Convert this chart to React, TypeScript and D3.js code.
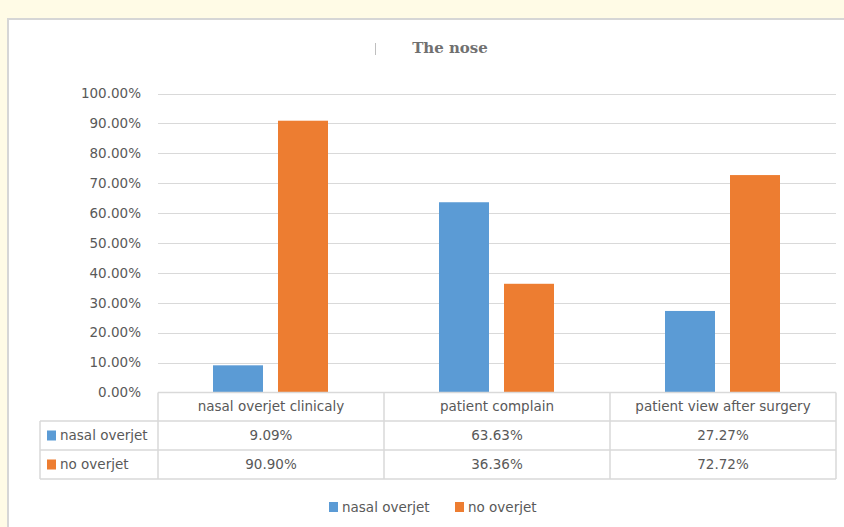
import * as d3 from 'd3'

const categories = ['nasal overjet clinicaly', 'patient complain', 'patient view after surgery']
const seriesNames = ['nasal overjet', 'no overjet']
const nasalOverjet = [0.0909, 0.6363, 0.2727]
const noOverjet = [0.909, 0.3636, 0.7272]
const seriesColors = ['#5b9bd5', '#ed7d31']
const yTicks = [0, 0.1, 0.2, 0.3, 0.4, 0.5, 0.6, 0.7, 0.8, 0.9, 1]

const W = 844
const H = 527
const font = "'DejaVu Sans', Verdana, sans-serif"
const textColor = '#595959'
const lineColor = '#d9d9d9'

const App = () => {
  const values = [nasalOverjet, noOverjet]

  const x0 = d3.scaleBand().domain(categories).range([158, 836])
  const x1 = d3.scaleBand().domain(seriesNames).range([-58, 57]).paddingInner(0.2308)
  const y = d3.scaleLinear().domain([0, 1]).range([392.5, 93.5])
  const fmt = d3.format('.2%')

  const tableTop = 392.5
  const rowH = [28.5, 29, 29]
  const rowY = [tableTop, tableTop + rowH[0], tableTop + rowH[0] + rowH[1]]
  const tableBottom = rowY[2] + rowH[2]
  const labelLeft = 40

  return (
    <svg width={W} height={H} style={{ position: 'absolute', left: 0, top: 0 }}>
      <rect x={0} y={0} width={W} height={H} fill="#fffbe6" />
      <rect x={8} y={19} width={W} height={H} fill="#fff" stroke="#d6d6d6" strokeWidth={2} />

      <line x1={375.5} x2={375.5} y1={43} y2={55} stroke="#bfbfbf" strokeWidth={1} />
      <text x={450} y={53} textAnchor="middle" fontFamily="'DejaVu Serif', Cambria, serif"
        fontWeight="bold" fontSize={15} fill="#707070">The nose</text>

      {/* grid + y labels */}
      {yTicks.map(t => (
        <g key={t}>
          {t > 0 && (
            <line x1={158} x2={836} y1={Math.round(y(t)) + 0.5} y2={Math.round(y(t)) + 0.5}
              stroke={lineColor} strokeWidth={1} />
          )}
          <text x={141} y={y(t)} dy="0.35em" textAnchor="end" fontFamily={font}
            fontSize={13.5} fill={textColor}>{fmt(t)}</text>
        </g>
      ))}

      {/* bars */}
      {categories.map((c, i) => {
        const cx = x0(c) + x0.bandwidth() / 2
        return seriesNames.map((s, j) => (
          <rect key={c + s} x={cx + x1(s)} y={y(values[j][i])} width={x1.bandwidth()}
            height={y(0) - y(values[j][i])} fill={seriesColors[j]} />
        ))
      })}

      {/* data table */}
      <g fill="none" stroke={lineColor} strokeWidth={1.5}>
        <line x1={158} x2={836} y1={tableTop} y2={tableTop} />
        <line x1={labelLeft} x2={836} y1={rowY[1]} y2={rowY[1]} />
        <line x1={labelLeft} x2={836} y1={rowY[2]} y2={rowY[2]} />
        <line x1={labelLeft} x2={836} y1={tableBottom} y2={tableBottom} />
        <line x1={labelLeft} x2={labelLeft} y1={rowY[1]} y2={tableBottom} />
        {categories.map(c => (
          <line key={c} x1={x0(c)} x2={x0(c)} y1={tableTop} y2={tableBottom} />
        ))}
        <line x1={836} x2={836} y1={tableTop} y2={tableBottom} />
      </g>
      {categories.map(c => (
        <text key={c} x={x0(c) + x0.bandwidth() / 2} y={rowY[0] + rowH[0] / 2} dy="0.35em"
          textAnchor="middle" fontFamily={font} fontSize={13.5} fill={textColor}>{c}</text>
      ))}
      {seriesNames.map((s, j) => (
        <g key={s}>
          <rect x={47} y={rowY[j + 1] + rowH[j + 1] / 2 - 5} width={9} height={10} fill={seriesColors[j]} />
          <text x={60} y={rowY[j + 1] + rowH[j + 1] / 2} dy="0.35em" fontFamily={font}
            fontSize={13.5} fill={textColor}>{s}</text>
          {categories.map((c, i) => (
            <text key={c} x={x0(c) + x0.bandwidth() / 2} y={rowY[j + 1] + rowH[j + 1] / 2} dy="0.35em"
              textAnchor="middle" fontFamily={font} fontSize={13.5} fill={textColor}>
              {fmt(values[j][i])}
            </text>
          ))}
        </g>
      ))}

      {/* legend */}
      {seriesNames.map((s, j) => {
        const lx = [329, 455][j]
        return (
          <g key={s}>
            <rect x={lx} y={502} width={9} height={10} fill={seriesColors[j]} />
            <text x={lx + 13} y={507.5} dy="0.35em" fontFamily={font} fontSize={13.5}
              fill={textColor}>{s}</text>
          </g>
        )
      })}
    </svg>
  )
}

export default App
